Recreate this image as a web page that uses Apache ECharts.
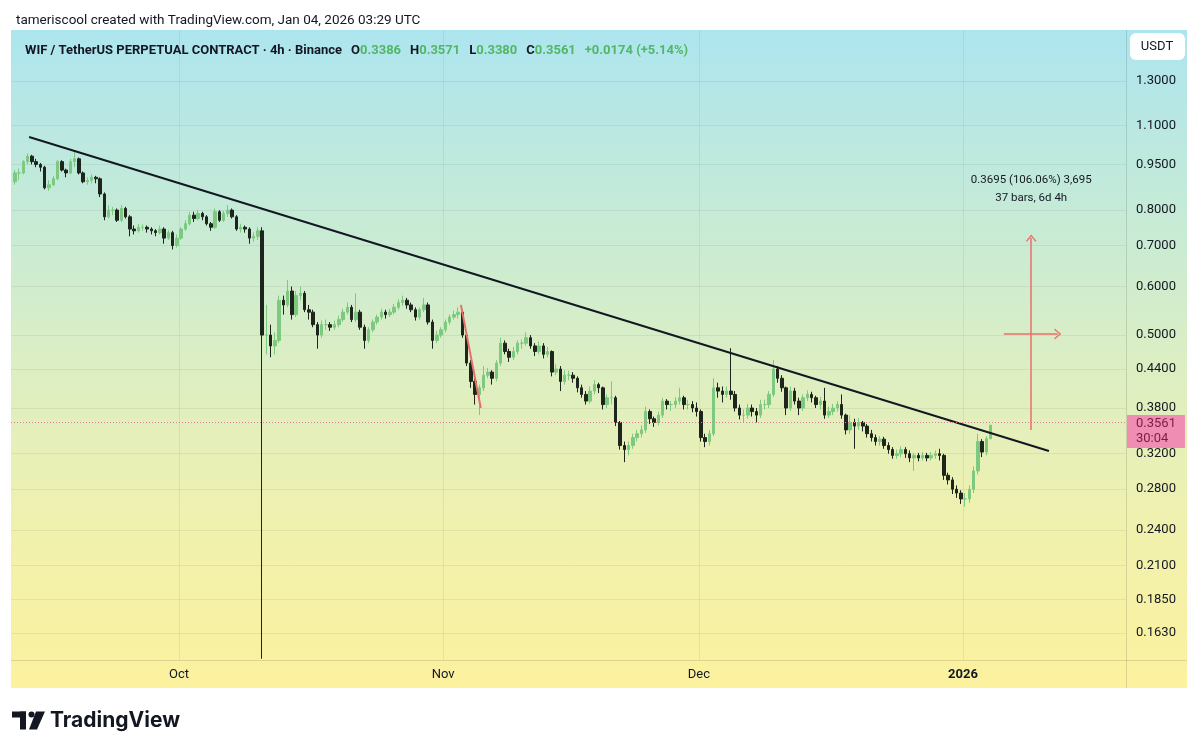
<!DOCTYPE html>
<html>
<head>
<meta charset="utf-8">
<title>WIF / TetherUS 4h</title>
<script src="https://cdn.jsdelivr.net/npm/echarts@6/dist/echarts.min.js"></script>
<style>
html, body { margin: 0; padding: 0; background: #fff; }
#chart { width: 1200px; height: 752px; }
</style>
</head>
<body>
<div id="chart"></div>
<script>
// bars, one per 12h: [open, close, low, high]
var firstBar = Date.UTC(2025, 8, 11, 18);
var barStep = 12 * 3600 * 1000;
var bars = [
    [0.890, 0.920, 0.880, 0.930], [0.920, 0.920, 0.895, 0.935], [0.920, 0.960, 0.915, 0.965], [0.960, 0.980, 0.950, 0.990],
    [0.980, 0.960, 0.950, 0.985], [0.960, 0.950, 0.940, 0.970], [0.950, 0.940, 0.925, 0.955], [0.940, 0.870, 0.865, 0.945],
    [0.870, 0.880, 0.860, 0.895], [0.880, 0.900, 0.875, 0.910], [0.900, 0.960, 0.895, 0.965], [0.960, 0.930, 0.925, 0.965],
    [0.930, 0.920, 0.905, 0.935], [0.920, 0.960, 0.915, 0.970], [0.960, 0.970, 0.940, 1.000], [0.970, 0.920, 0.915, 0.975],
    [0.920, 0.890, 0.885, 0.925], [0.890, 0.895, 0.880, 0.905], [0.895, 0.905, 0.885, 0.915], [0.905, 0.900, 0.885, 0.910],
    [0.900, 0.850, 0.840, 0.905], [0.850, 0.780, 0.770, 0.855], [0.780, 0.800, 0.775, 0.815], [0.800, 0.800, 0.785, 0.810],
    [0.800, 0.770, 0.765, 0.805], [0.770, 0.805, 0.765, 0.815], [0.805, 0.780, 0.775, 0.810], [0.780, 0.745, 0.725, 0.785],
    [0.745, 0.740, 0.730, 0.755], [0.740, 0.750, 0.735, 0.760], [0.750, 0.750, 0.740, 0.758], [0.750, 0.745, 0.735, 0.755],
    [0.745, 0.740, 0.730, 0.750], [0.740, 0.735, 0.725, 0.745], [0.735, 0.745, 0.730, 0.755], [0.745, 0.720, 0.705, 0.750],
    [0.720, 0.735, 0.715, 0.742], [0.735, 0.700, 0.690, 0.740], [0.700, 0.720, 0.695, 0.730], [0.720, 0.745, 0.715, 0.750],
    [0.745, 0.760, 0.740, 0.770], [0.760, 0.785, 0.755, 0.795], [0.785, 0.775, 0.765, 0.795], [0.775, 0.790, 0.770, 0.800],
    [0.790, 0.780, 0.770, 0.795], [0.780, 0.760, 0.755, 0.785], [0.760, 0.750, 0.740, 0.765], [0.750, 0.795, 0.745, 0.805],
    [0.795, 0.770, 0.765, 0.800], [0.770, 0.790, 0.765, 0.798], [0.790, 0.800, 0.780, 0.815], [0.800, 0.780, 0.775, 0.805],
    [0.780, 0.745, 0.740, 0.785], [0.745, 0.750, 0.735, 0.760], [0.750, 0.745, 0.735, 0.755], [0.745, 0.720, 0.705, 0.750],
    [0.720, 0.725, 0.710, 0.735], [0.725, 0.740, 0.715, 0.750], [0.740, 0.500, 0.148, 0.750], [0.500, 0.500, 0.465, 0.560],
    [0.500, 0.480, 0.460, 0.520], [0.480, 0.490, 0.465, 0.505], [0.490, 0.570, 0.485, 0.580], [0.570, 0.560, 0.540, 0.580],
    [0.560, 0.590, 0.555, 0.615], [0.590, 0.540, 0.530, 0.600], [0.540, 0.580, 0.535, 0.590], [0.580, 0.585, 0.570, 0.600],
    [0.585, 0.550, 0.545, 0.590], [0.550, 0.545, 0.530, 0.560], [0.545, 0.520, 0.515, 0.550], [0.520, 0.500, 0.475, 0.525],
    [0.500, 0.520, 0.495, 0.528], [0.520, 0.520, 0.510, 0.530], [0.520, 0.515, 0.508, 0.525], [0.515, 0.520, 0.510, 0.528],
    [0.520, 0.530, 0.515, 0.538], [0.530, 0.545, 0.525, 0.552], [0.545, 0.555, 0.540, 0.565], [0.555, 0.530, 0.525, 0.560],
    [0.530, 0.545, 0.525, 0.585], [0.545, 0.515, 0.510, 0.550], [0.515, 0.490, 0.475, 0.520], [0.490, 0.510, 0.485, 0.515],
    [0.510, 0.525, 0.505, 0.530], [0.525, 0.535, 0.520, 0.540], [0.535, 0.545, 0.530, 0.552], [0.545, 0.540, 0.532, 0.550],
    [0.540, 0.545, 0.535, 0.552], [0.545, 0.555, 0.540, 0.562], [0.555, 0.565, 0.550, 0.572], [0.565, 0.570, 0.558, 0.580],
    [0.570, 0.560, 0.552, 0.575], [0.560, 0.550, 0.545, 0.565], [0.550, 0.535, 0.528, 0.555], [0.535, 0.550, 0.530, 0.555],
    [0.550, 0.560, 0.545, 0.575], [0.560, 0.525, 0.520, 0.565], [0.525, 0.490, 0.475, 0.530], [0.490, 0.500, 0.485, 0.508],
    [0.500, 0.510, 0.495, 0.515], [0.510, 0.525, 0.505, 0.530], [0.525, 0.535, 0.520, 0.540], [0.535, 0.540, 0.530, 0.548],
    [0.540, 0.545, 0.532, 0.555], [0.545, 0.500, 0.495, 0.550], [0.500, 0.450, 0.445, 0.505], [0.450, 0.420, 0.410, 0.455],
    [0.420, 0.400, 0.385, 0.425], [0.400, 0.410, 0.370, 0.415], [0.410, 0.430, 0.405, 0.445], [0.430, 0.435, 0.425, 0.442],
    [0.435, 0.425, 0.415, 0.438], [0.425, 0.450, 0.420, 0.455], [0.450, 0.485, 0.445, 0.495], [0.485, 0.470, 0.465, 0.490],
    [0.470, 0.460, 0.452, 0.475], [0.460, 0.470, 0.455, 0.478], [0.470, 0.485, 0.465, 0.490], [0.485, 0.485, 0.475, 0.492],
    [0.485, 0.495, 0.480, 0.505], [0.495, 0.480, 0.475, 0.500], [0.480, 0.470, 0.462, 0.485], [0.470, 0.480, 0.465, 0.488],
    [0.480, 0.465, 0.458, 0.485], [0.465, 0.470, 0.460, 0.478], [0.470, 0.435, 0.428, 0.472], [0.435, 0.440, 0.430, 0.448],
    [0.440, 0.420, 0.405, 0.445], [0.420, 0.430, 0.415, 0.438], [0.430, 0.430, 0.422, 0.437], [0.430, 0.425, 0.418, 0.435],
    [0.425, 0.410, 0.403, 0.428], [0.410, 0.400, 0.395, 0.415], [0.400, 0.390, 0.385, 0.405], [0.390, 0.405, 0.386, 0.412],
    [0.405, 0.415, 0.400, 0.422], [0.415, 0.410, 0.402, 0.418], [0.410, 0.385, 0.378, 0.412], [0.385, 0.395, 0.380, 0.400],
    [0.395, 0.395, 0.385, 0.420], [0.395, 0.360, 0.355, 0.398], [0.360, 0.330, 0.325, 0.362], [0.330, 0.325, 0.310, 0.335],
    [0.325, 0.330, 0.318, 0.335], [0.330, 0.340, 0.326, 0.345], [0.340, 0.345, 0.335, 0.350], [0.345, 0.350, 0.340, 0.356],
    [0.350, 0.375, 0.346, 0.382], [0.375, 0.365, 0.358, 0.378], [0.365, 0.360, 0.354, 0.368], [0.360, 0.370, 0.356, 0.375],
    [0.370, 0.390, 0.366, 0.395], [0.390, 0.385, 0.378, 0.393], [0.385, 0.385, 0.376, 0.390], [0.385, 0.390, 0.380, 0.396],
    [0.390, 0.395, 0.385, 0.410], [0.395, 0.385, 0.378, 0.398], [0.385, 0.385, 0.378, 0.392], [0.385, 0.380, 0.374, 0.390],
    [0.380, 0.375, 0.368, 0.388], [0.375, 0.340, 0.335, 0.378], [0.340, 0.335, 0.328, 0.345], [0.335, 0.345, 0.330, 0.350],
    [0.345, 0.410, 0.342, 0.425], [0.410, 0.405, 0.395, 0.418], [0.405, 0.400, 0.388, 0.412], [0.400, 0.405, 0.395, 0.412],
    [0.405, 0.400, 0.392, 0.476], [0.400, 0.380, 0.375, 0.405], [0.380, 0.370, 0.364, 0.385], [0.370, 0.370, 0.360, 0.378],
    [0.370, 0.380, 0.365, 0.386], [0.380, 0.375, 0.368, 0.385], [0.375, 0.370, 0.360, 0.380], [0.370, 0.385, 0.366, 0.392],
    [0.385, 0.385, 0.378, 0.392], [0.385, 0.400, 0.380, 0.405], [0.400, 0.440, 0.396, 0.455], [0.440, 0.425, 0.418, 0.445],
    [0.425, 0.410, 0.404, 0.430], [0.410, 0.380, 0.370, 0.412], [0.380, 0.405, 0.376, 0.412], [0.405, 0.390, 0.385, 0.410],
    [0.390, 0.380, 0.370, 0.395], [0.380, 0.395, 0.376, 0.400], [0.395, 0.400, 0.390, 0.406], [0.400, 0.395, 0.388, 0.404],
    [0.395, 0.385, 0.380, 0.398], [0.385, 0.390, 0.378, 0.396], [0.390, 0.370, 0.365, 0.410], [0.370, 0.375, 0.366, 0.382],
    [0.375, 0.380, 0.370, 0.386], [0.380, 0.385, 0.375, 0.390], [0.385, 0.370, 0.365, 0.400], [0.370, 0.350, 0.344, 0.372],
    [0.350, 0.360, 0.345, 0.370], [0.360, 0.355, 0.326, 0.365], [0.355, 0.360, 0.350, 0.366], [0.360, 0.355, 0.348, 0.362],
    [0.355, 0.345, 0.340, 0.358], [0.345, 0.340, 0.335, 0.350], [0.340, 0.335, 0.330, 0.344], [0.335, 0.338, 0.330, 0.342],
    [0.338, 0.330, 0.326, 0.341], [0.330, 0.325, 0.320, 0.334], [0.325, 0.318, 0.314, 0.328], [0.318, 0.320, 0.314, 0.325],
    [0.320, 0.325, 0.316, 0.329], [0.325, 0.320, 0.315, 0.328], [0.320, 0.315, 0.310, 0.324], [0.315, 0.318, 0.300, 0.321],
    [0.318, 0.315, 0.311, 0.321], [0.315, 0.318, 0.312, 0.322], [0.318, 0.315, 0.311, 0.321], [0.315, 0.318, 0.312, 0.322],
    [0.318, 0.320, 0.314, 0.324], [0.320, 0.318, 0.312, 0.326], [0.318, 0.295, 0.290, 0.320], [0.295, 0.290, 0.285, 0.298],
    [0.290, 0.280, 0.275, 0.293], [0.280, 0.276, 0.271, 0.284], [0.276, 0.270, 0.265, 0.279], [0.270, 0.270, 0.262, 0.276],
    [0.270, 0.280, 0.266, 0.284], [0.280, 0.300, 0.276, 0.305], [0.300, 0.335, 0.296, 0.345], [0.335, 0.322, 0.316, 0.338],
    [0.322, 0.3386, 0.318, 0.342], [0.3386, 0.3561, 0.3380, 0.3571]
];

var priceTicks = [1.3, 1.1, 0.95, 0.8, 0.7, 0.6, 0.5, 0.44, 0.38, 0.32, 0.28, 0.24, 0.21, 0.185, 0.163];
var monthTicks = [Date.UTC(2025, 9, 1), Date.UTC(2025, 10, 1), Date.UTC(2025, 11, 1), Date.UTC(2026, 0, 1)];
var monthLabels = ['Oct', 'Nov', 'Dec', '2026'];

// drawings on the chart
var trendLine = [[Date.UTC(2025, 8, 13, 10), 1.053], [Date.UTC(2026, 0, 11, 2), 0.3233]];
var redLine = [[Date.UTC(2025, 10, 3, 2), 0.560], [Date.UTC(2025, 10, 5, 10), 0.380]];
var measureV = [[Date.UTC(2026, 0, 9, 0), 0.350], [Date.UTC(2026, 0, 9, 0), 0.720]];
var measureH = [[Date.UTC(2026, 0, 5, 19), 0.502], [Date.UTC(2026, 0, 12, 3), 0.502]];
var measureAt = [Date.UTC(2026, 0, 9, 0), 0.866];
var measureText = ['0.3695 (106.06%) 3,695', '37 bars, 6d 4h'];

var lastPrice = 0.3561;
var countdown = '30:04';
var ohlc = { O: '0.3386', H: '0.3571', L: '0.3380', C: '0.3561' };
var change = '+0.0174 (+5.14%)';

var upColor = '#7cc97f';
var downColor = '#1d251d';
var textColor = '#131722';
var chevron = 'path://M0,10 L5,0 L10,10 L8.6,10.6 L5,2.8 L1.4,10.6 Z';

var candleData = bars.map(function (b, i) {
    return [firstBar + i * barStep, b[0], b[1], b[2], b[3]];
});

var myChart = echarts.init(document.getElementById('chart'));
var option = {
    animation: false,
    backgroundColor: '#ffffff',
    textStyle: { fontFamily: 'Roboto, "Liberation Sans", sans-serif' },
    title: [
        {
            text: 'tameriscool created with TradingView.com, Jan 04, 2026 03:29 UTC',
            left: 11, top: 9,
            textStyle: { fontSize: 13.5, fontWeight: 'normal', color: textColor }
        },
        {
            text: '{n|WIF / TetherUS PERPETUAL CONTRACT · 4h · Binance}  '
                + '{n|O}{g|' + ohlc.O + '}  {n|H}{g|' + ohlc.H + '}  {n|L}{g|' + ohlc.L + '}  {n|C}{g|' + ohlc.C + '}  {g|' + change + '}',
            left: 20, top: 37,
            textStyle: {
                rich: {
                    n: { fontSize: 13, color: textColor },
                    g: { fontSize: 13, color: '#52b765' }
                }
            }
        }
    ],
    graphic: [
        {
            type: 'rect', z: -10, silent: true,
            shape: { x: 11, y: 30, width: 1176, height: 658 },
            style: {
                fill: new echarts.graphic.LinearGradient(0, 0, 0, 1, [
                    { offset: 0, color: '#ade5ef' },
                    { offset: 0.25, color: '#c3ead9' },
                    { offset: 0.5, color: '#dbeec4' },
                    { offset: 0.75, color: '#f0f1ae' },
                    { offset: 1, color: '#fcf19e' }
                ])
            }
        },
        {
            type: 'line', z: 5, silent: true,
            shape: { x1: 1126.5, y1: 30, x2: 1126.5, y2: 688 },
            style: { stroke: 'rgba(0,0,0,0.12)', lineWidth: 1 }
        },
        {
            type: 'line', z: 5, silent: true,
            shape: { x1: 11, y1: 660.5, x2: 1187, y2: 660.5 },
            style: { stroke: 'rgba(0,0,0,0.12)', lineWidth: 1 }
        },
        {
            type: 'rect', z: 5, silent: true,
            shape: { x: 1130, y: 33, width: 55, height: 27, r: 6 },
            style: { fill: '#ffffff' }
        },
        {
            type: 'text', z: 6, silent: true,
            style: { x: 1157, y: 47, text: 'USDT', fill: textColor, font: '13px Roboto, sans-serif', align: 'center', verticalAlign: 'middle' }
        },
        // TradingView logo
        {
            type: 'group', left: 12, top: 710, silent: true,
            children: [
                { type: 'rect', shape: { x: 0, y: 1, width: 14, height: 6 }, style: { fill: '#131722' } },
                { type: 'rect', shape: { x: 8, y: 1, width: 6, height: 18 }, style: { fill: '#131722' } },
                { type: 'circle', shape: { cx: 19.5, cy: 4, r: 3 }, style: { fill: '#131722' } },
                { type: 'polygon', shape: { points: [[24, 1], [33, 1], [25, 19], [17, 19]] }, style: { fill: '#131722' } },
                { type: 'text', style: { x: 38, y: 10, text: 'TradingView', fill: '#131722', font: 'bold 21px Inter, Roboto, sans-serif', verticalAlign: 'middle' } }
            ]
        }
    ],
    grid: { left: 11, right: 74, top: 30, bottom: 92, containLabel: false },
    xAxis: {
        type: 'value',
        min: Date.UTC(2025, 8, 11, 7),
        max: Date.UTC(2026, 0, 20, 3),
        axisLine: { show: false },
        axisTick: { show: false, customValues: monthTicks },
        splitLine: { show: true, lineStyle: { color: 'rgba(0,0,0,0.06)', width: 1 } },
        axisLabel: {
            customValues: monthTicks,
            margin: 8,
            fontSize: 13,
            color: textColor,
            formatter: function (v) {
                var i = monthTicks.indexOf(v);
                var s = i >= 0 ? monthLabels[i] : '';
                return /^\d+$/.test(s) ? '{b|' + s + '}' : s;
            },
            rich: { b: { fontWeight: 'bold', fontSize: 13, color: textColor } }
        }
    },
    yAxis: {
        type: 'log',
        position: 'right',
        min: 0.1473,
        max: 1.575,
        axisLine: { show: false },
        axisTick: { show: false, customValues: priceTicks },
        splitLine: { show: true, lineStyle: { color: 'rgba(0,0,0,0.06)', width: 1 } },
        axisLabel: {
            customValues: priceTicks,
            margin: 10,
            fontSize: 13,
            color: textColor,
            formatter: function (v) { return Number(v).toFixed(4); }
        }
    },
    series: [
        {
            name: 'WIF',
            type: 'candlestick',
            clip: true,
            barWidth: 3,
            encode: { x: 0, y: [1, 2, 3, 4] },
            data: candleData,
            itemStyle: {
                color: upColor, color0: downColor,
                borderColor: upColor, borderColor0: downColor,
                borderWidth: 1
            },
            markLine: {
                silent: true,
                symbol: 'none',
                lineStyle: { color: '#e2789a', type: [1, 2], width: 1 },
                label: {
                    position: 'end',
                    distance: 1,
                    offset: [0, 9],
                    formatter: lastPrice.toFixed(4) + '\n' + countdown,
                    backgroundColor: '#ef8db2',
                    color: '#7c1c45',
                    fontSize: 13,
                    lineHeight: 15,
                    padding: [2, 9, 1, 9]
                },
                data: [{ yAxis: lastPrice }]
            }
        },
        {
            name: 'trend',
            type: 'line',
            data: trendLine,
            symbol: 'none',
            lineStyle: { color: '#131722', width: 2 },
            z: 4
        },
        {
            name: 'drop',
            type: 'line',
            data: redLine,
            symbol: 'none',
            lineStyle: { color: '#ea6f6a', width: 2 },
            z: 4,
            markLine: {
                silent: true,
                symbol: ['none', chevron],
                symbolSize: [11, 7],
                lineStyle: { color: '#ea6f6a', type: 'solid', width: 1.5 },
                label: { show: false },
                data: [
                    [{ coord: measureV[0] }, { coord: measureV[1] }],
                    [{ coord: measureH[0] }, { coord: measureH[1] }]
                ]
            },
            markPoint: {
                silent: true,
                symbol: 'circle',
                symbolSize: 0,
                label: {
                    show: true,
                    position: 'inside',
                    formatter: measureText.join('\n'),
                    color: textColor,
                    fontSize: 11.5,
                    lineHeight: 18
                },
                data: [{ coord: measureAt }]
            }
        }
    ]
};
myChart.setOption(option);
</script>
</body>
</html>
